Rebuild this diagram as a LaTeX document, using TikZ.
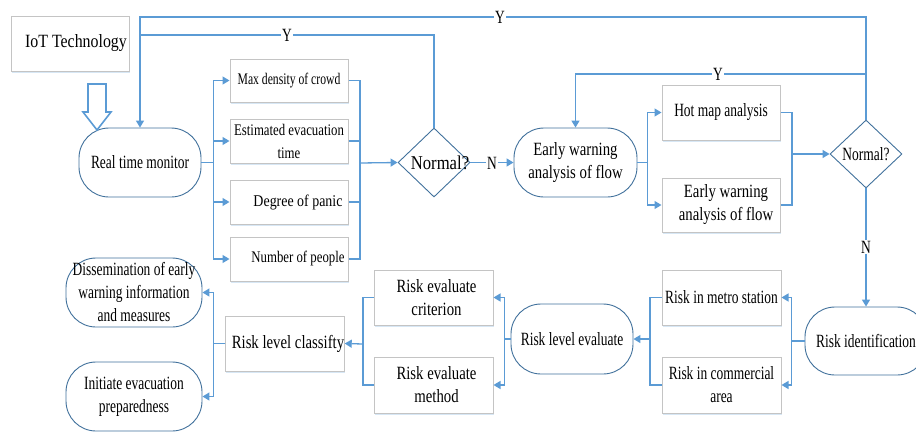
\documentclass[tikz,border=0pt]{standalone}
\usepackage{fontspec}
\setmainfont{Liberation Serif}
\newfontfamily\fmain{Liberation Serif}[FakeStretch=0.72]
\newfontfamily\fmid{Liberation Serif}[FakeStretch=0.79]
\newfontfamily\fwide{Liberation Serif}[FakeStretch=0.85]
\usetikzlibrary{arrows.meta,shapes.geometric,shadows}
\definecolor{conncol}{HTML}{5B9BD5}
\definecolor{stadcol}{HTML}{41719C}
\definecolor{boxcol}{HTML}{C4C4C4}
\definecolor{shadcol}{HTML}{BDD7EE}
\begin{document}
\begin{tikzpicture}[x=1pt,y=-1pt,
  conn/.style={draw=conncol,line width=1.3pt},
  tip/.style={-{Triangle[length=7pt,width=8pt]}},
  maintext/.style={font=\fmain\fontsize{18.7}{23}\selectfont},
  smalltext/.style={font=\fmain\fontsize{16.2}{23}\selectfont},
  box/.style={draw=boxcol,line width=1pt,fill=white,inner sep=0pt,align=center,
    drop shadow={shadow xshift=0.5pt,shadow yshift=-2pt,fill=shadcol,opacity=0.6}},
  stad/.style={draw=stadcol,line width=0.9pt,fill=white,rounded corners=30pt,inner sep=0pt,align=center,maintext},
  dia/.style={diamond,draw=stadcol,line width=0.9pt,fill=white,inner sep=0pt,minimum width=72pt,minimum height=69pt},
  lab/.style={fill=white,inner sep=1pt,maintext}
]
\clip (0,0) rectangle (916,432);

% nodes
\node[box,font=\fwide\fontsize{18.7}{23}\selectfont,minimum width=118pt,minimum height=55pt] (iot) at (70,43.5) {\hspace*{12pt}IoT Technology};
\node[stad,minimum width=122pt,minimum height=69pt] (rtm) at (140,162.5) {Real time monitor};
\node[box,smalltext,minimum width=118pt,minimum height=43pt] (maxd) at (289,80.5) {Max density of crowd};
\node[box,smalltext,font=\fmid\fontsize{16.2}{23}\selectfont,minimum width=118pt,minimum height=44pt] (est) at (289,141) {Estimated evacuation\\time};
\node[box,font=\fwide\fontsize{16.4}{23}\selectfont,minimum width=118pt,minimum height=44pt] (deg) at (289,202) {\hspace*{18pt}Degree of panic};
\node[box,font=\fmid\fontsize{16.2}{23}\selectfont,minimum width=118pt,minimum height=44pt] (numb) at (289,259) {\hspace*{18pt}Number of people};
\node[dia,font=\fwide\fontsize{19.6}{23}\selectfont] (d1) at (434,162.5) {\makebox[0pt]{\hspace*{12pt}Normal?}};
\node[stad,font=\fmid\fontsize{18.7}{23}\selectfont,minimum width=123pt,minimum height=69pt] (ew) at (575.5,162.5) {Early warning\\analysis of flow};
\node[box,maintext,minimum width=118pt,minimum height=55pt] (hot) at (721,112.5) {Hot map analysis};
\node[box,font=\fmid\fontsize{18.7}{23}\selectfont,minimum width=118pt,minimum height=54pt] (ew2) at (721,205) {\hspace*{10pt}Early warning\\\hspace*{10pt}analysis of flow};
\node[dia,maintext,minimum height=68pt] (d2) at (866,154) {\makebox[0pt]{Normal?}};
\node[stad,minimum width=122pt,minimum height=68pt] (rid) at (866,341) {Risk identification};
\node[box,maintext,minimum width=119pt,minimum height=55pt] (metro) at (721.5,297.5) {Risk in metro station};
\node[box,maintext,minimum width=119pt,minimum height=56pt] (comm) at (721.5,385) {Risk in commercial\\area};
\node[stad,minimum width=122pt,minimum height=70pt] (rle) at (572,339) {Risk level evaluate};
\node[box,font=\fmid\fontsize{18.7}{23}\selectfont,minimum width=119pt,minimum height=55pt] (crit) at (433.5,297.5) {\hspace*{6pt}Risk evaluate\\\hspace*{6pt}criterion};
\node[box,font=\fmid\fontsize{18.7}{23}\selectfont,minimum width=119pt,minimum height=56pt] (meth) at (433.5,385) {\hspace*{6pt}Risk evaluate\\\hspace*{6pt}method};
\node[box,font=\fmid\fontsize{18.7}{23}\selectfont,minimum width=118pt,minimum height=55pt] (rlc) at (285,343.5) {\hspace*{6pt}Risk level classifty};
\node[stad,minimum width=136pt,minimum height=69pt] (diss) at (134,292.5) {Dissemination of early\\warning information\\and measures};
\node[stad,minimum width=136pt,minimum height=69pt] (init) at (134,396.5) {Initiate evacuation\\preparedness};

% hollow arrow IoT -> monitor
\draw[draw=conncol,line width=1.6pt,fill=white,line join=miter]
  (88,84) -- (106,84) -- (106,112) -- (111,112) -- (97,130) -- (83,112) -- (88,112) -- cycle;

% coordinates
\coordinate (ytop) at (140,17);
\coordinate (ymid) at (140,35);
\coordinate (yj) at (866,74);
\coordinate (rb1) at (360,163);
\coordinate (rb2) at (792,154);
\coordinate (lb3) at (650,339);
\coordinate (lb4) at (363,344);

% monitor -> four boxes
\draw[conn,tip] (rtm.east) -- ++(12,0) |- (maxd.west);
\draw[conn,tip] (rtm.east) -- ++(12,0) |- (est.west);
\draw[conn,tip] (rtm.east) -- ++(12,0) |- (deg.west);
\draw[conn,tip] (rtm.east) -- ++(12,0) |- (numb.west);
% four boxes -> normal?
\draw[conn] (maxd.east) -| (rb1) |- (numb.east);
\draw[conn] (est.east) -- (est.east -| rb1);
\draw[conn] (deg.east) -- (deg.east -| rb1);
\draw[conn,tip] (rb1) -- (d1.west);
% N
\draw[conn,tip] (d1.east) -- (ew.west);
\node[lab] (n1) at (492,163) {N};
% Y loops
\draw[conn,tip] (d2.north) |- (ytop) -- (rtm.north);
\draw[conn] (d1.north) |- (ymid);
\draw[conn,tip] (yj) -| (ew.north);
\node[lab] (y1) at (500,17) {Y};
\node[lab] (y2) at (287,35) {Y};
\node[lab] (y3) at (718,74) {Y};
% early warning -> two boxes
\draw[conn,tip] (ew.east) -- ++(10,0) |- (hot.west);
\draw[conn,tip] (ew.east) -- ++(10,0) |- (ew2.west);
\draw[conn] (hot.east) -| (rb2) |- (ew2.east);
\draw[conn,tip] (rb2) -- (d2.west);
% N down
\draw[conn,tip] (d2.south) -- (rid.north);
\node[lab] (n2) at (866,247) {N};
% risk identification -> two boxes
\draw[conn,tip] (rid.west) -- ++(-13,0) |- (metro.east);
\draw[conn,tip] (rid.west) -- ++(-13,0) |- (comm.east);
\draw[conn] (metro.west) -| (lb3) |- (comm.west);
\draw[conn,tip] (lb3) -- (rle.east);
% risk level evaluate -> two boxes
\draw[conn,tip] (rle.west) -- ++(-6,0) |- (crit.east);
\draw[conn,tip] (rle.west) -- ++(-6,0) |- (meth.east);
\draw[conn] (crit.west) -| (lb4) |- (meth.west);
\draw[conn,tip] (lb4) -- (rlc.east);
% classify -> two
\draw[conn,tip] (rlc.west) -- ++(-12,0) |- (diss.east);
\draw[conn,tip] (rlc.west) -- ++(-12,0) |- (init.east);
\end{tikzpicture}
\end{document}
